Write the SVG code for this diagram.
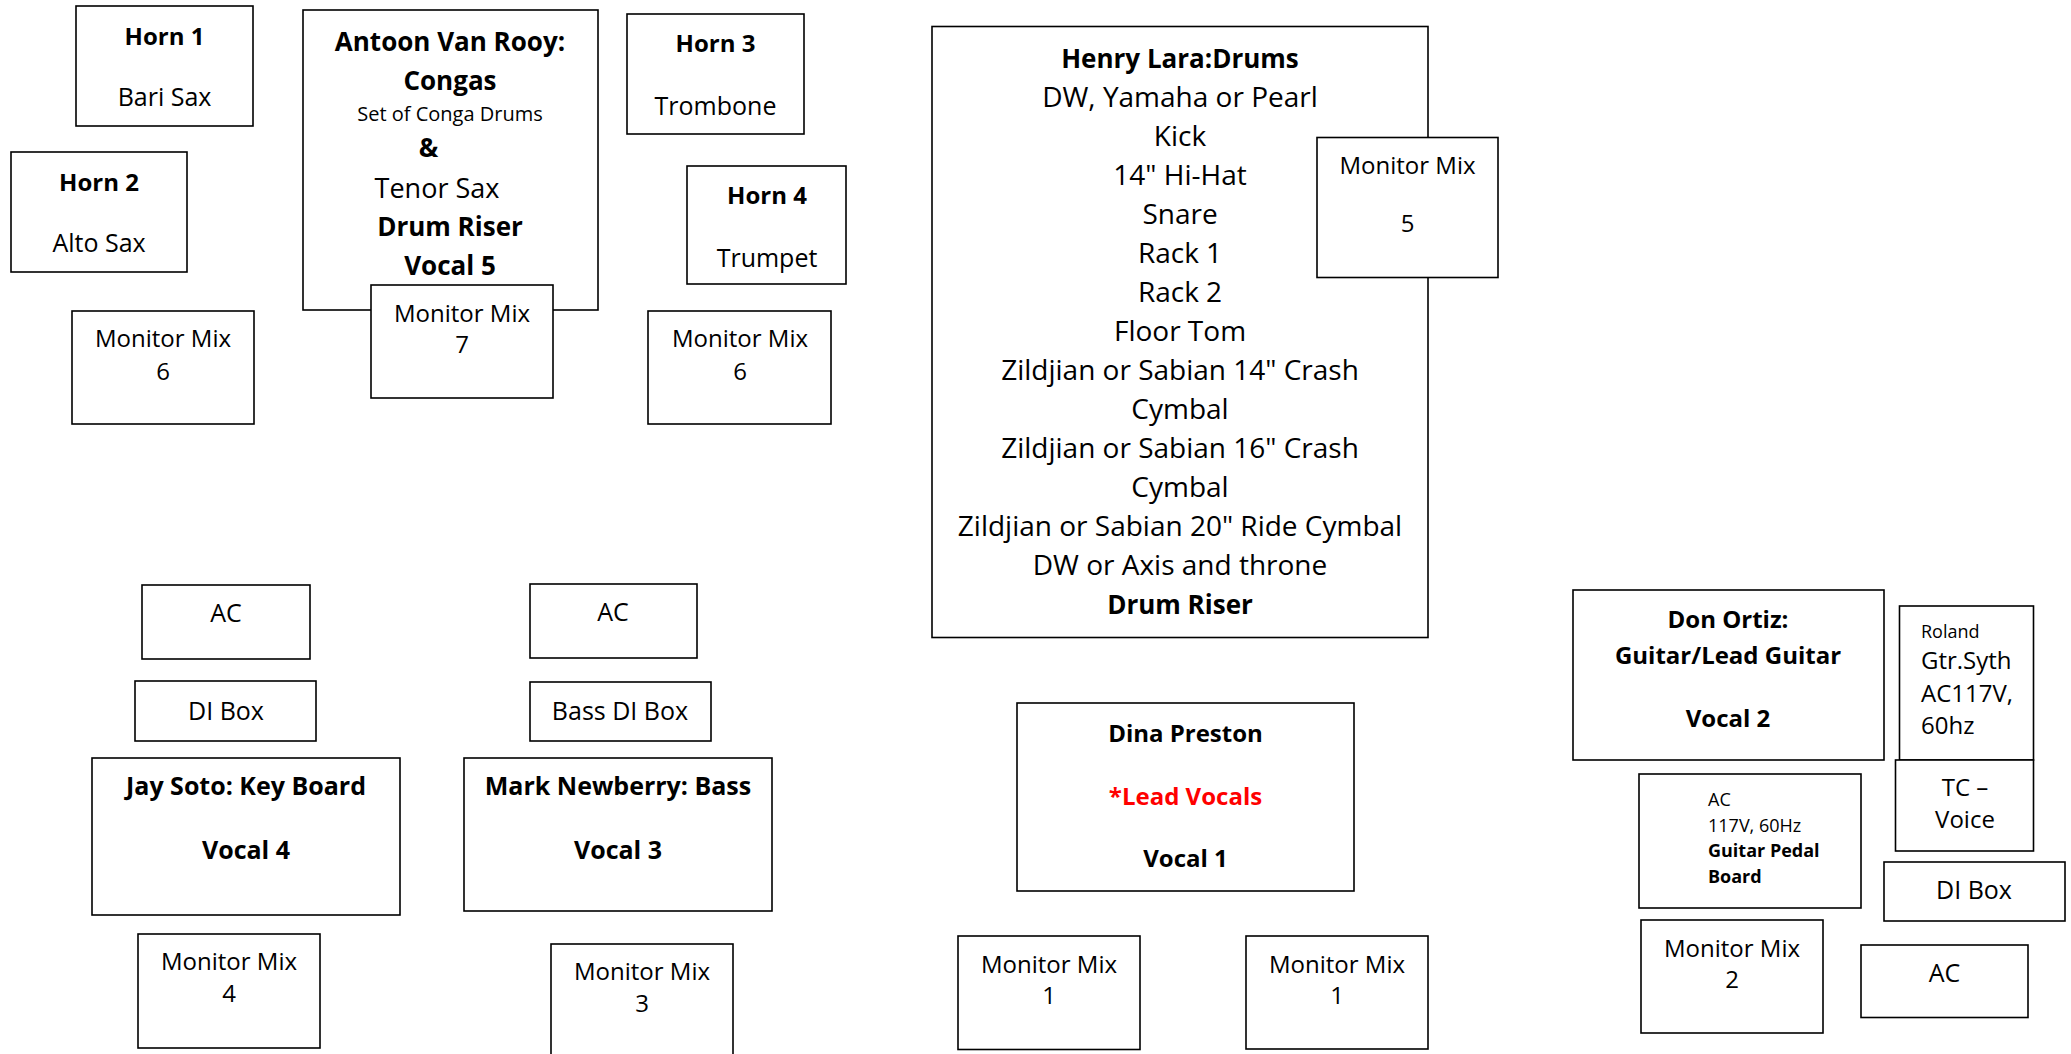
<svg xmlns="http://www.w3.org/2000/svg" width="2071" height="1054" viewBox="0 0 2071 1054">
<style>
.box{fill:#fff;stroke:#000;stroke-width:1.6}
text{font-family:"Open Sans","Liberation Sans",sans-serif;fill:#000;text-anchor:middle}
.r{font-size:25px}
.m{font-size:24px}
.b{font-size:24px;font-weight:bold}
.dr{font-size:28px}
.db{font-size:26px;font-weight:bold}
.ab{font-size:26px;font-weight:bold}
.s{font-size:18px;text-anchor:start}
.sb{font-size:18px;font-weight:bold;text-anchor:start}
.l{text-anchor:start}
.red{fill:#ff0000}
</style>
<rect width="2071" height="1054" fill="#fff"/>
<g id="connectors"/>
<g id="horn1"><rect class="box" x="76" y="6" width="177" height="120"/><text class="b" x="164.5" y="45">Horn 1</text><text class="r" x="164.5" y="106">Bari Sax</text></g>
<g id="horn2"><rect class="box" x="11" y="152" width="176" height="120"/><text class="b" x="99" y="191">Horn 2</text><text class="r" x="99" y="252">Alto Sax</text></g>
<g id="monitor6-left"><rect class="box" x="72" y="311" width="182" height="113"/><text class="m" x="163" y="347">Monitor Mix</text><text class="m" x="163" y="380">6</text></g>
<g id="antoon"><rect class="box" x="303" y="10" width="295" height="300"/>
<text class="ab" x="450" y="51">Antoon Van Rooy:</text>
<text class="ab" x="450" y="90">Congas</text>
<text x="450" y="121" style="font-size:20px">Set of Conga Drums</text>
<text class="ab" x="428.5" y="157">&amp;</text>
<text x="437" y="198" style="font-size:27px">Tenor Sax</text>
<text class="ab" x="450" y="236">Drum Riser</text>
<text class="ab" x="450" y="275">Vocal 5</text></g>
<g id="monitor7"><rect class="box" x="371" y="285" width="182" height="113"/><text class="m" x="462" y="322">Monitor Mix</text><text class="m" x="462" y="353">7</text></g>
<g id="horn3"><rect class="box" x="627" y="14" width="177" height="120"/><text class="b" x="715.5" y="52">Horn 3</text><text class="r" x="715.5" y="115">Trombone</text></g>
<g id="horn4"><rect class="box" x="687" y="166" width="159" height="118"/><text class="b" x="767" y="204">Horn 4</text><text class="r" x="767" y="267">Trumpet</text></g>
<g id="monitor6-right"><rect class="box" x="648" y="311" width="183" height="113"/><text class="m" x="740" y="347">Monitor Mix</text><text class="m" x="740" y="380">6</text></g>
<g id="henry"><rect class="box" x="932" y="26.5" width="496" height="611"/>
<text class="db" x="1180" y="67.5">Henry Lara:Drums</text>
<text class="dr" x="1180" y="106.5">DW, Yamaha or Pearl</text>
<text class="dr" x="1180" y="145.5">Kick</text>
<text class="dr" x="1180" y="184.5">14" Hi-Hat</text>
<text class="dr" x="1180" y="223.5">Snare</text>
<text class="dr" x="1180" y="262.5">Rack 1</text>
<text class="dr" x="1180" y="301.5">Rack 2</text>
<text class="dr" x="1180" y="340.5">Floor Tom</text>
<text class="dr" x="1180" y="379.5">Zildjian or Sabian 14" Crash</text>
<text class="dr" x="1180" y="418.5">Cymbal</text>
<text class="dr" x="1180" y="457.5">Zildjian or Sabian 16" Crash</text>
<text class="dr" x="1180" y="496.5">Cymbal</text>
<text class="dr" x="1180" y="535.5">Zildjian or Sabian 20" Ride Cymbal</text>
<text class="dr" x="1180" y="574.5">DW or Axis and throne</text>
<text class="db" x="1180" y="613.5">Drum Riser</text></g>
<g id="monitor5"><rect class="box" x="1317" y="137.5" width="181" height="140"/><text class="m" x="1407.5" y="174">Monitor Mix</text><text class="m" x="1407.5" y="231.5">5</text></g>
<g id="ac-keys"><rect class="box" x="142" y="585" width="168" height="74"/><text class="r" x="226" y="622">AC</text></g>
<g id="di-keys"><rect class="box" x="135" y="681" width="181" height="60"/><text class="r" x="226" y="720">DI Box</text></g>
<g id="jay"><rect class="box" x="92" y="758" width="308" height="157"/><text class="b" x="246" y="795" style="font-size:25px">Jay Soto: Key Board</text><text class="b" x="246" y="859" style="font-size:25px">Vocal 4</text></g>
<g id="monitor4"><rect class="box" x="138" y="934" width="182" height="114"/><text class="m" x="229" y="970">Monitor Mix</text><text class="m" x="229" y="1002">4</text></g>
<g id="ac-bass"><rect class="box" x="530" y="584" width="167" height="74"/><text class="r" x="613" y="621">AC</text></g>
<g id="di-bass"><rect class="box" x="530" y="682" width="181" height="59"/><text class="r" x="620" y="720">Bass DI Box</text></g>
<g id="mark"><rect class="box" x="464" y="758" width="308" height="153"/><text class="b" x="618" y="795" style="font-size:25px">Mark Newberry: Bass</text><text class="b" x="618" y="859" style="font-size:25px">Vocal 3</text></g>
<g id="monitor3"><rect class="box" x="551" y="944" width="182" height="125"/><text class="m" x="642" y="980">Monitor Mix</text><text class="m" x="642" y="1012">3</text></g>
<g id="dina"><rect class="box" x="1017" y="703" width="337" height="188"/><text class="b" x="1185.5" y="742">Dina Preston</text><text class="b red" x="1185.5" y="805">*Lead Vocals</text><text class="b" x="1185.5" y="867">Vocal 1</text></g>
<g id="monitor1-left"><rect class="box" x="958" y="936" width="182" height="113.5"/><text class="m" x="1049" y="973">Monitor Mix</text><text class="m" x="1049" y="1004">1</text></g>
<g id="monitor1-right"><rect class="box" x="1246" y="936" width="182" height="113"/><text class="m" x="1337" y="973">Monitor Mix</text><text class="m" x="1337" y="1004">1</text></g>
<g id="don"><rect class="box" x="1573" y="590" width="311" height="170"/><text class="b" x="1728" y="628">Don Ortiz:</text><text class="b" x="1728" y="664">Guitar/Lead Guitar</text><text class="b" x="1728" y="727">Vocal 2</text></g>
<g id="roland"><rect class="box" x="1899.5" y="606" width="134" height="154"/><text class="s" x="1921" y="638">Roland</text><text class="m l" x="1921" y="669">Gtr.Syth</text><text class="m l" x="1921" y="702">AC117V,</text><text class="m l" x="1921" y="734">60hz</text></g>
<g id="tc-voice"><rect class="box" x="1895.5" y="760" width="138" height="91"/><text class="m" x="1965" y="796">TC –</text><text class="m" x="1965" y="828">Voice</text></g>
<g id="di-guitar"><rect class="box" x="1884" y="862" width="181" height="59"/><text class="r" x="1974" y="899">DI Box</text></g>
<g id="pedal"><rect class="box" x="1639" y="774" width="222" height="134"/><text class="s" x="1708" y="806">AC</text><text class="s" x="1708" y="832">117V, 60Hz</text><text class="sb" x="1708" y="857">Guitar Pedal</text><text class="sb" x="1708" y="883">Board</text></g>
<g id="monitor2"><rect class="box" x="1641" y="920" width="182" height="113"/><text class="m" x="1732" y="957">Monitor Mix</text><text class="m" x="1732" y="988">2</text></g>
<g id="ac-guitar"><rect class="box" x="1861" y="945" width="167" height="72.5"/><text class="r" x="1944.5" y="982">AC</text></g>
</svg>
